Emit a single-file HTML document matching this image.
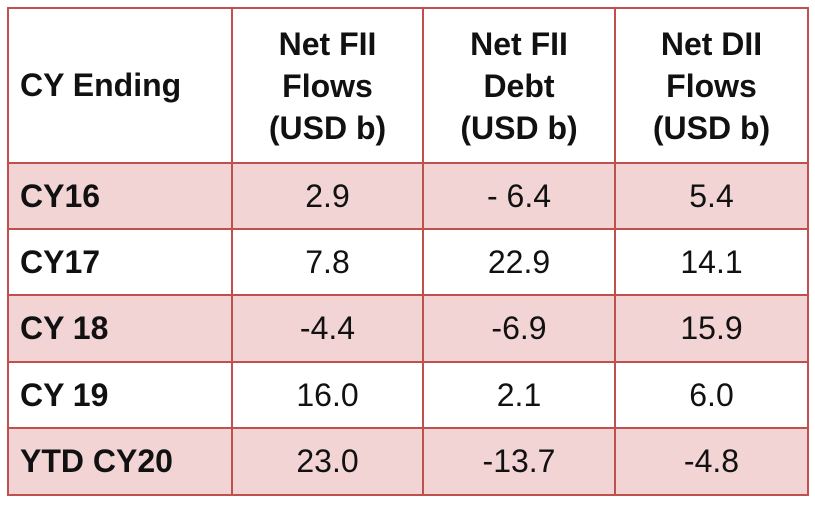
<!DOCTYPE html>
<html><head><meta charset="utf-8"><style>
body{margin:0;width:815px;height:506px;background:#fff;font-family:"Liberation Sans",sans-serif;position:relative;overflow:hidden}
.c{position:absolute;box-sizing:border-box;display:flex;align-items:center;justify-content:center;font-size:32px;color:#111}
.l{justify-content:flex-start;padding-left:12px;font-weight:bold}
.h{font-weight:bold;text-align:center;line-height:42px}
.p{background:#f2d4d5}
.hl{position:absolute;background:#c0504d;height:2px;left:7px;width:801px}
.vl{position:absolute;background:#c0504d;width:2px;top:7px;height:489px}
</style></head><body>
<div id="t"></div>
<script>
const rows=[["CY16","2.9","- 6.4","5.4"],["CY17","7.8","22.9","14.1"],["CY 18","-4.4","-6.9","15.9"],["CY 19","16.0","2.1","6.0"],["YTD CY20","23.0","-13.7","-4.8"]];
const xs=[8,232,423,615,808];
const ys=[8,163,229,295,362,428,495];
const heads=["CY Ending","Net FII<br>Flows<br>(USD b)","Net FII<br>Debt<br>(USD b)","Net DII<br>Flows<br>(USD b)"];
const t=document.getElementById('t');
function cell(x0,x1,y0,y1,cls,html,name){
 const d=document.createElement('div');
 d.className='c '+cls;
 d.style.left=x0+'px';d.style.top=y0+'px';d.style.width=(x1-x0)+'px';d.style.height=(y1-y0)+'px';
 d.innerHTML=html;
 
 
 t.appendChild(d);
}
for(let c=0;c<4;c++)cell(xs[c],xs[c+1],ys[0],ys[1],c==0?'l':'h',heads[c],'header-cell');
for(let r=0;r<5;r++)for(let c=0;c<4;c++)cell(xs[c],xs[c+1],ys[r+1],ys[r+2],(c==0?'l ':'')+(r%2==0?'p':''),rows[r][c],c==0?'row-label':'value-cell');
for(const y of ys){const d=document.createElement('div');d.className='hl';d.style.top=(y-1)+'px';


t.appendChild(d);}
for(const x of xs){const d=document.createElement('div');d.className='vl';d.style.left=(x-1)+'px';


t.appendChild(d);}
</script>
</body></html>
